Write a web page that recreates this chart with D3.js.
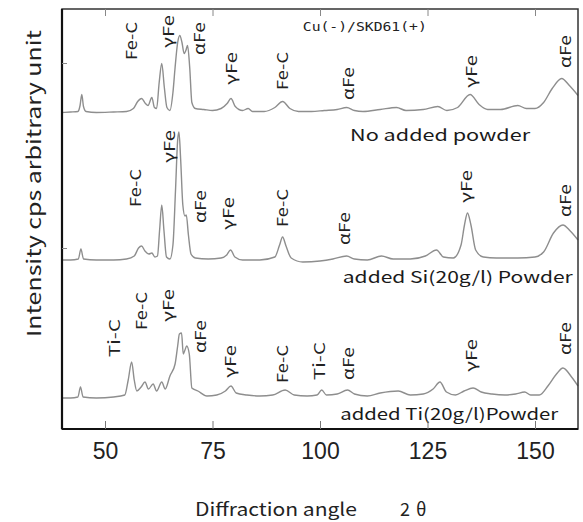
<!DOCTYPE html>
<html>
<head>
<meta charset="utf-8">
<script src="https://cdn.jsdelivr.net/npm/d3@7"></script>
<style>
  body { margin: 0; background: #fff; }
  svg { display: block; }
</style>
</head>
<body>
<div id="chart"></div>
<script>
// XRD scans: [2theta, counts above the scan's baseline]
const scanNoPowder = [[40,0],[42,0.5],[43.7,1],[44.2,7],[44.6,18],[45.0,6],[45.6,1],[48,0],[52,0.5],[55,1],
  [56.6,4],[57.6,11],[58.5,14],[59.4,9],[60.0,7],[60.9,15],[61.5,5],[62.0,4],[62.6,30],[63.2,49],[63.8,25],
  [64.4,5],[65.1,2],[65.8,20],[66.3,45],[66.9,70],[67.4,77],[67.9,70],[68.4,59],[68.8,62],[69.2,67],[69.7,45],
  [70.2,10],[71,4],[73,3],[75,2],[77,4],[78.4,9],[79.3,14],[80.3,6],[82,2],[83.3,4],[84.3,1],[87,1],[89.5,5],
  [91.3,11],[93,4],[95,1],[98,1],[101,2],[104,3],[106.2,5],[108,2],[110,1],[114,3],[117.8,5],[120,2],[124,3],
  [127.4,6],[129.5,2],[132,5],[134.9,18],[137,8],[139,3],[142,3],[146,7],[148,4],[150,4],[152,10],[154,24],
  [156.2,34],[158,27],[160,17]];

const scanSi = [[40,0],[42,0],[43.8,1],[44.4,11],[45.0,1],[48,0],[52,0],[55,1],[56.8,4],[57.8,12],[58.5,14],
  [59.3,9],[60.2,6],[60.9,7],[61.6,3],[62.2,4],[62.7,30],[63.2,55],[63.7,30],[64.3,3],[65.1,1],[65.8,15],
  [66.4,70],[66.9,120],[67.2,128],[67.6,100],[68.1,55],[68.6,44],[68.9,45],[69.4,25],[70.0,6],[71,2],[74,1],
  [77,2],[78.3,5],[79.2,10],[80.2,3],[82,0],[86,0],[89.5,3],[90.6,15],[91.3,23],[92.1,14],[93.3,2],[96,-2],
  [100,-1],[103,1],[106.2,4],[108,1],[111,0],[114.3,4],[117,1],[121,1],[124.5,4],[127.1,10],[128.7,3],[131,2],
  [132.8,15],[133.6,35],[134.3,47],[135.1,35],[136.2,10],[138,3],[141,2],[146,2],[150,3],[152,8],[154.3,27],
  [156.5,35],[158.2,29],[160,20]];

const scanTi = [[40,0],[42,0],[43.7,1],[44.3,11],[44.9,1],[48,0],[52,1],[54.6,3],[55.4,18],[56.2,36],[56.8,18],
  [57.4,7],[58.4,11],[59.3,16],[60.1,9],[61.2,14],[62.0,7],[63.2,16],[64.0,9],[65.1,22],[66.3,34],[66.9,52],
  [67.3,64],[67.8,65],[68.2,44],[68.6,48],[69.0,52],[69.6,44],[70.2,10],[71.6,7],[73.7,2],[76,3],[78,7],
  [79.3,12],[80.5,5],[83,3],[86,2],[89,3],[91.9,8],[94,3],[97,2],[99.3,3],[100.4,8],[101.5,3],[104,4],
  [106.4,8],[108,4],[111,2],[114,5],[118.2,7],[121,3],[124,4],[126.3,9],[127.9,16],[129.4,6],[131.5,3],
  [133.5,7],[135.6,10],[137.5,6],[140,4],[143,3],[145.5,4],[147.6,6],[149,3],[151,3],[153,12],[155,24],
  [156.5,30],[158.5,21],[160,12]];

// stacking offsets of the three scans (cps)
const scanOffsets = [320.5, 173, 35];
const scanNames = ["No added powder", "added Si(20g/l) Powder", "added Ti(20g/l)Powder"];

// peak labels: [2theta, label, cps at the foot of the label]
const peaksNoPowder = [[56.2,"Fe-C",373],[64.7,"γFe",385],[72.1,"αFe",378],[79.5,"γFe",348],
  [91.4,"Fe-C",343],[106.7,"αFe",333],[135.3,"γFe",345],[157.2,"αFe",365]];
const peaksSi = [[57.1,"Fe-C",226],[65.1,"γFe",270],[72.3,"αFe",210],[78.8,"γFe",203],
  [91.4,"Fe-C",206],[105.8,"αFe",188],[134.2,"γFe",230],[157.2,"αFe",216]];
const peaksTi = [[52.3,"Ti-C",76],[58.4,"Fe-C",103],[64.9,"γFe",111],[72.3,"αFe",80],[79.1,"γFe",55],
  [91.4,"Fe-C",50],[100,"Ti-C",53],[106.7,"αFe",53],[135.3,"γFe",61],[157.2,"αFe",78]];

const xTicks = [50, 75, 100, 125, 150];
const yTicks = [185, 370];

const W = 583, H = 522;
const frame = {left: 62, right: 578, top: 9, bottom: 429};

const svg = d3.select("#chart").append("svg")
  .attr("width", W).attr("height", H)
  .attr("viewBox", [0, 0, W, H]);

const x = d3.scaleLinear().domain([40, 160]).range([frame.left, frame.right]);
const y = d3.scaleLinear().domain([4, 424]).range([frame.bottom, frame.top]);

const scans = [scanNoPowder, scanSi, scanTi];
const peaks = [peaksNoPowder, peaksSi, peaksTi];

// sample labels: [2theta start, cps baseline, width px]
const nameSpots = [[107, 292, 180], [105.3, 150, 230], [104.7, 13, 218]];

const line = d3.line()
  .x(d => x(d[0]))
  .curve(d3.curveMonotoneX);

scans.forEach(function(s, i){
  svg.append("path")
    .datum(s)
    .attr("fill", "none")
    .attr("stroke", "#8e8e8e")
    .attr("stroke-width", 1.4)
    .attr("d", line.y(d => y(d[1] + scanOffsets[i])));
});

const font = "'Noto Sans CJK JP', 'Noto Sans', sans-serif";

peaks.forEach(function(p){
  svg.append("g")
    .selectAll("text")
    .data(p)
    .join("text")
    .attr("transform", d => "translate(" + x(d[0]) + "," + y(d[2]) + ") rotate(-90)")
    .attr("dy", "0.36em")
    .attr("font-family", font)
    .attr("font-size", 15)
    .attr("textLength", d => d[1].length == 4 ? 38 : 33)
    .attr("lengthAdjust", "spacingAndGlyphs")
    .attr("fill", "#222")
    .text(d => d[1]);
});

svg.append("g")
  .selectAll("text")
  .data(scanNames)
  .join("text")
  .attr("x", (d, i) => x(nameSpots[i][0]))
  .attr("y", (d, i) => y(nameSpots[i][1]))
  .attr("textLength", (d, i) => nameSpots[i][2])
  .attr("lengthAdjust", "spacingAndGlyphs")
  .attr("font-family", font)
  .attr("font-size", 16)
  .attr("fill", "#1a1a1a")
  .text(d => d);

svg.append("text")
  .attr("x", x(96))
  .attr("y", y(402))
  .attr("textLength", 124)
  .attr("lengthAdjust", "spacingAndGlyphs")
  .attr("font-family", "'DejaVu Sans Mono', monospace")
  .attr("font-size", 12)
  .attr("fill", "#222")
  .text("Cu(-)/SKD61(+)");

// frame
svg.append("rect")
  .attr("x", frame.left).attr("y", frame.top)
  .attr("width", frame.right - frame.left).attr("height", frame.bottom - frame.top)
  .attr("fill", "none")
  .attr("stroke", "#333")
  .attr("stroke-width", 1.5);
svg.append("line")
  .attr("x1", frame.left).attr("x2", frame.left)
  .attr("y1", frame.top).attr("y2", frame.bottom)
  .attr("stroke", "#111").attr("stroke-width", 2.2);
svg.append("line")
  .attr("x1", frame.left).attr("x2", frame.right)
  .attr("y1", frame.bottom).attr("y2", frame.bottom)
  .attr("stroke", "#111").attr("stroke-width", 2);

// inward ticks
const bAxis = svg.append("g")
  .attr("transform", "translate(0," + frame.bottom + ")")
  .call(d3.axisBottom(x).tickValues(xTicks).tickSize(-8).tickPadding(14).tickFormat(d3.format("d")));
bAxis.select(".domain").remove();
bAxis.selectAll("line").attr("stroke", "#777");
bAxis.selectAll("text")
  .attr("font-family", "'Liberation Sans', Arial, sans-serif")
  .attr("font-size", 23)
  .attr("fill", "#222")
  .attr("dy", "0.7em");

const tAxis = svg.append("g")
  .attr("transform", "translate(0," + frame.top + ")")
  .call(d3.axisTop(x).tickValues(xTicks).tickSize(-7).tickFormat(""));
tAxis.select(".domain").remove();
tAxis.selectAll("line").attr("stroke", "#888");

const lAxis = svg.append("g")
  .attr("transform", "translate(" + frame.left + ",0)")
  .call(d3.axisLeft(y).tickValues(yTicks).tickSize(-5).tickFormat(""));
lAxis.select(".domain").remove();
lAxis.selectAll("line").attr("stroke", "#888");

// axis titles
svg.append("text")
  .attr("transform", "translate(41,337) rotate(-90)")
  .attr("textLength", 307)
  .attr("lengthAdjust", "spacingAndGlyphs")
  .attr("font-family", font)
  .attr("font-size", 19)
  .attr("fill", "#222")
  .text("Intensity cps  arbitrary unit");

svg.append("text")
  .attr("x", 195).attr("y", 516)
  .attr("textLength", 162)
  .attr("lengthAdjust", "spacingAndGlyphs")
  .attr("font-family", font)
  .attr("font-size", 18)
  .attr("fill", "#222")
  .text("Diffraction angle");

svg.append("text")
  .attr("x", 400).attr("y", 516)
  .attr("font-family", font)
  .attr("font-size", 18)
  .attr("letter-spacing", 6)
  .attr("fill", "#222")
  .text("2θ");
</script>
</body>
</html>
